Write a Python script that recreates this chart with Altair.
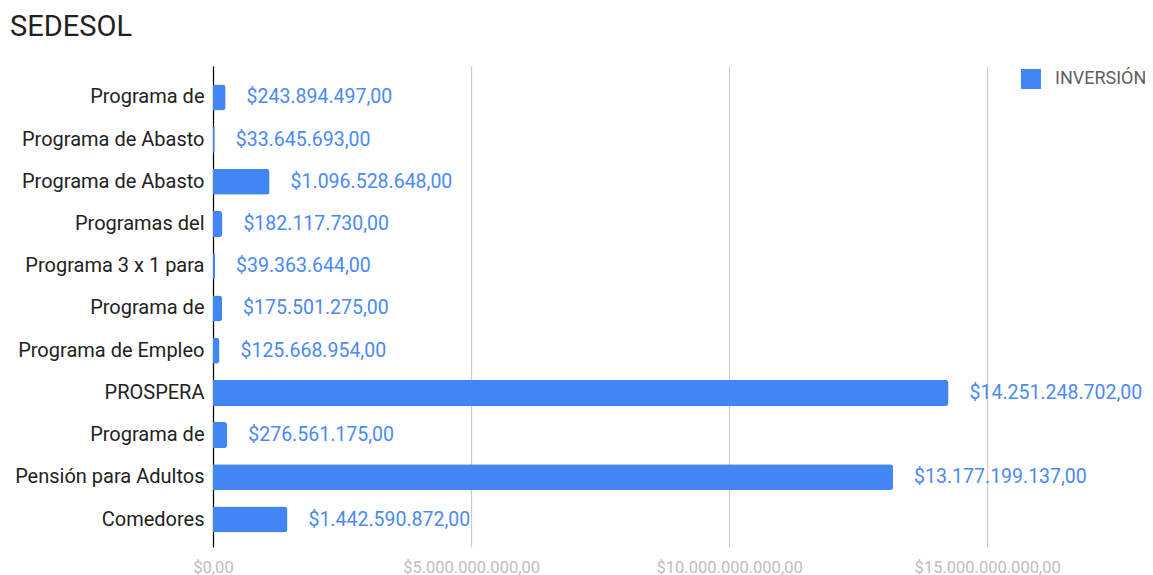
import altair as alt
import pandas as pd

categories = ["Programa de", "Programa de Abasto", "Programa de Abasto", "Programas del",
              "Programa 3 x 1 para", "Programa de", "Programa de Empleo", "PROSPERA",
              "Programa de", "Pensión para Adultos", "Comedores"]
values = [243894497, 33645693, 1096528648, 182117730, 39363644, 175501275,
          125668954, 14251248702, 276561175, 13177199137, 1442590872]
series_name = "INVERSIÓN"
x_ticks = [0, 5e9, 10e9, 15e9]


def fmt(v):
    s = f"{v:,.2f}"
    return "$" + s.replace(",", "_").replace(".", ",").replace("_", ".")


df = pd.DataFrame({
    "idx": list(range(len(categories))),
    "cat": categories,
    "value": values,
    "label": [fmt(v) for v in values],
    "serie": [series_name] * len(values),
})

cat_array = "[" + ",".join("'" + c + "'" for c in categories) + "]"

y_enc = alt.Y("idx:O", sort=None, title=None,
              scale=alt.Scale(paddingInner=0.384, paddingOuter=0.39, align=0.56),
              axis=alt.Axis(labelExpr=cat_array + "[datum.value]", ticks=False,
                            domainColor="#000000", domainWidth=1.2, labelFont="Roboto",
                            labelFontSize=20, labelColor="#222222", labelPadding=9,
                            labelLimit=400, grid=False))

x_enc = alt.X("value:Q", title=None,
              scale=alt.Scale(domain=[0, 18e9], nice=False),
              axis=alt.Axis(values=x_ticks, domain=False, ticks=False,
                            gridColor="#cccccc", gridWidth=1.2,
                            labelExpr="'$' + replace(replace(replace(format(datum.value, ',.2f'), /,/g, '_'), /\\./g, ','), /_/g, '.')",
                            labelFont="Roboto", labelFontSize=16.5, labelColor="#bdbdbd",
                            labelPadding=12, labelFlush=False))

bars = alt.Chart(df).mark_bar(cornerRadiusEnd=3).encode(
    x=x_enc,
    y=y_enc,
    color=alt.Color("serie:N", scale=alt.Scale(range=["#4285F4"]),
                    legend=alt.Legend(title=None, orient="none", legendX=808, legendY=3,
                                      symbolType="square", symbolSize=400,
                                      symbolStrokeWidth=0, labelFont="Roboto",
                                      labelFontSize=18, labelColor="#5f5f5f",
                                      labelOffset=14, labelLimit=300)),
)

texts = alt.Chart(df).mark_text(align="left", baseline="middle", dx=21,
                                font="Roboto", fontSize=19.5, color="#4a8af4").encode(
    x="value:Q",
    y=alt.Y("idx:O", sort=None),
    text="label:N",
)

chart = (bars + texts).properties(
    width=929, height=481,
    autosize="none",
    padding={"left": 205, "top": 58, "right": 3, "bottom": 28},
    title=alt.Title("SEDESOL", anchor="start", frame="group", dx=-203, dy=28, offset=29,
                    baseline="alphabetic", fontSize=29,
                    font="Roboto", fontWeight="normal", color="#212121"),
).configure_view(stroke=None)

chart.save("out.html", embed_options={"renderer": "svg", "actions": False})
